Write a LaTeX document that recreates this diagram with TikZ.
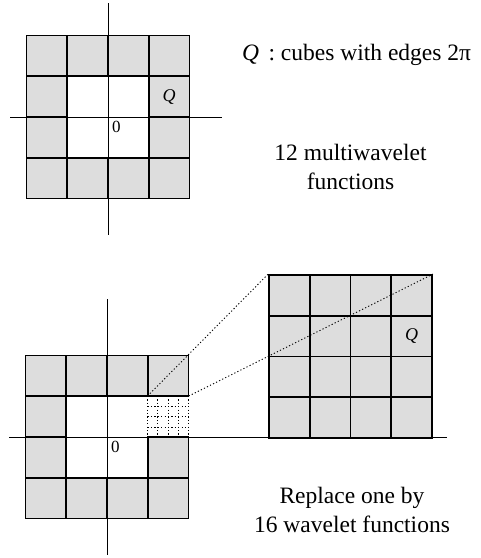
\documentclass[tikz,border=0pt]{standalone}
\usepackage{fontspec}
\setmainfont{Liberation Serif}
\usetikzlibrary{positioning, calc}

\definecolor{cellgray}{RGB}{221,221,221}

\tikzset{
  cell/.style={rectangle, draw, fill=cellgray, line width=1.8pt, minimum size=40.75pt, inner sep=0pt, font=\fontsize{18}{20}\selectfont},
  hole/.style={rectangle, minimum size=40.75pt, inner sep=0pt},
  axis/.style={line width=0.7pt},
  fine/.style={line width=0.7pt, dash pattern=on 1.2pt off 2.2pt},
  zoomline/.style={line width=0.9pt, dash pattern=on 1.2pt off 2.2pt},
  caption/.style={font=\fontsize{23.5}{29}\selectfont, align=center},
  origin/.style={anchor=north west, inner sep=4pt, font=\fontsize{17}{20}\selectfont}
}

\begin{document}
\begin{tikzpicture}[x=1pt, y=-1pt]
  \useasboundingbox (0,0) rectangle (481,558);
  % axes
  \coordinate (tx1) at (10,117);
  \coordinate (tx2) at (222,117);
  \coordinate (ty1) at (108,3);
  \coordinate (ty2) at (108,235);
  \coordinate (bx1) at (9,437);
  \coordinate (bx2) at (447,437);
  \coordinate (by1) at (107,299);
  \coordinate (by2) at (107,555);
  \draw[axis] (tx1) -- (tx2);
  \draw[axis] (ty1) -- (ty2);
  \draw[axis] (bx1) -- (bx2);
  \draw[axis] (by1) -- (by2);

  % top ring of cubes
  \node[cell] (a11) at (46.9,55.9) {};
  \node[cell] (a12) at (87.6,55.9) {};
  \node[cell] (a13) at (128.4,55.9) {};
  \node[cell] (a14) at (169.1,55.9) {};
  \node[cell] (a21) at (46.9,96.6) {};
  \node[cell] (a24) at (169.1,96.6) {\textit{Q}};
  \node[cell] (a31) at (46.9,137.4) {};
  \node[cell] (a34) at (169.1,137.4) {};
  \node[cell] (a41) at (46.9,178.1) {};
  \node[cell] (a42) at (87.6,178.1) {};
  \node[cell] (a43) at (128.4,178.1) {};
  \node[cell] (a44) at (169.1,178.1) {};
  \node[origin] (a0) at (ty1 |- tx1) {0};

  % bottom ring, one cube taken out
  \node[cell] (b11) at (45.9,375.9) {};
  \node[cell] (b12) at (86.6,375.9) {};
  \node[cell] (b13) at (127.4,375.9) {};
  \node[cell] (b14) at (168.1,375.9) {};
  \node[cell] (b21) at (45.9,416.6) {};
  \node[hole] (b24) at (168.1,416.6) {};
  \node[cell] (b31) at (45.9,457.4) {};
  \node[cell] (b34) at (168.1,457.4) {};
  \node[cell] (b41) at (45.9,498.1) {};
  \node[cell] (b42) at (86.6,498.1) {};
  \node[cell] (b43) at (127.4,498.1) {};
  \node[cell] (b44) at (168.1,498.1) {};
  \node[origin] (b0) at (by1 |- bx1) {0};

  % the taken-out cube split in 16
  \foreach \i in {0,1,2,3,4}
    \draw[fine] ($(b24.north west)!\i/4!(b24.north east)$) -- ($(b24.south west)!\i/4!(b24.south east)$);
  \foreach \i in {1,2,3}
    \draw[fine] ($(b24.north west)!\i/4!(b24.south west)$) -- ($(b24.north east)!\i/4!(b24.south east)$);

  % enlarged cube
  \node[cell] (z11) at (289.4,295.4) {};
  \node[cell] (z12) at (330.1,295.4) {};
  \node[cell] (z13) at (370.9,295.4) {};
  \node[cell] (z14) at (411.6,295.4) {};
  \node[cell] (z21) at (289.4,336.1) {};
  \node[cell] (z22) at (330.1,336.1) {};
  \node[cell] (z23) at (370.9,336.1) {};
  \node[cell] (z24) at (411.6,336.1) {\textit{Q}};
  \node[cell] (z31) at (289.4,376.9) {};
  \node[cell] (z32) at (330.1,376.9) {};
  \node[cell] (z33) at (370.9,376.9) {};
  \node[cell] (z34) at (411.6,376.9) {};
  \node[cell] (z41) at (289.4,417.6) {};
  \node[cell] (z42) at (330.1,417.6) {};
  \node[cell] (z43) at (370.9,417.6) {};
  \node[cell] (z44) at (411.6,417.6) {};
  \draw[zoomline] (b24.north west) -- (z11.north west);
  \draw[zoomline] (b24.north east) -- (z14.north east);

  % texts
  \node[caption, anchor=base west, inner sep=0pt] (legend) at (242,60.7) {\textit{Q}\hspace{0.4em}:\hspace{0.25em}cubes with edges 2π};
  \node[caption, anchor=base] (multi) at (350.5,189) {12 multiwavelet\\functions};
  \node[caption, anchor=base] (single) at (352,532) {Replace one by\\16 wavelet functions};
\end{tikzpicture}
\end{document}
